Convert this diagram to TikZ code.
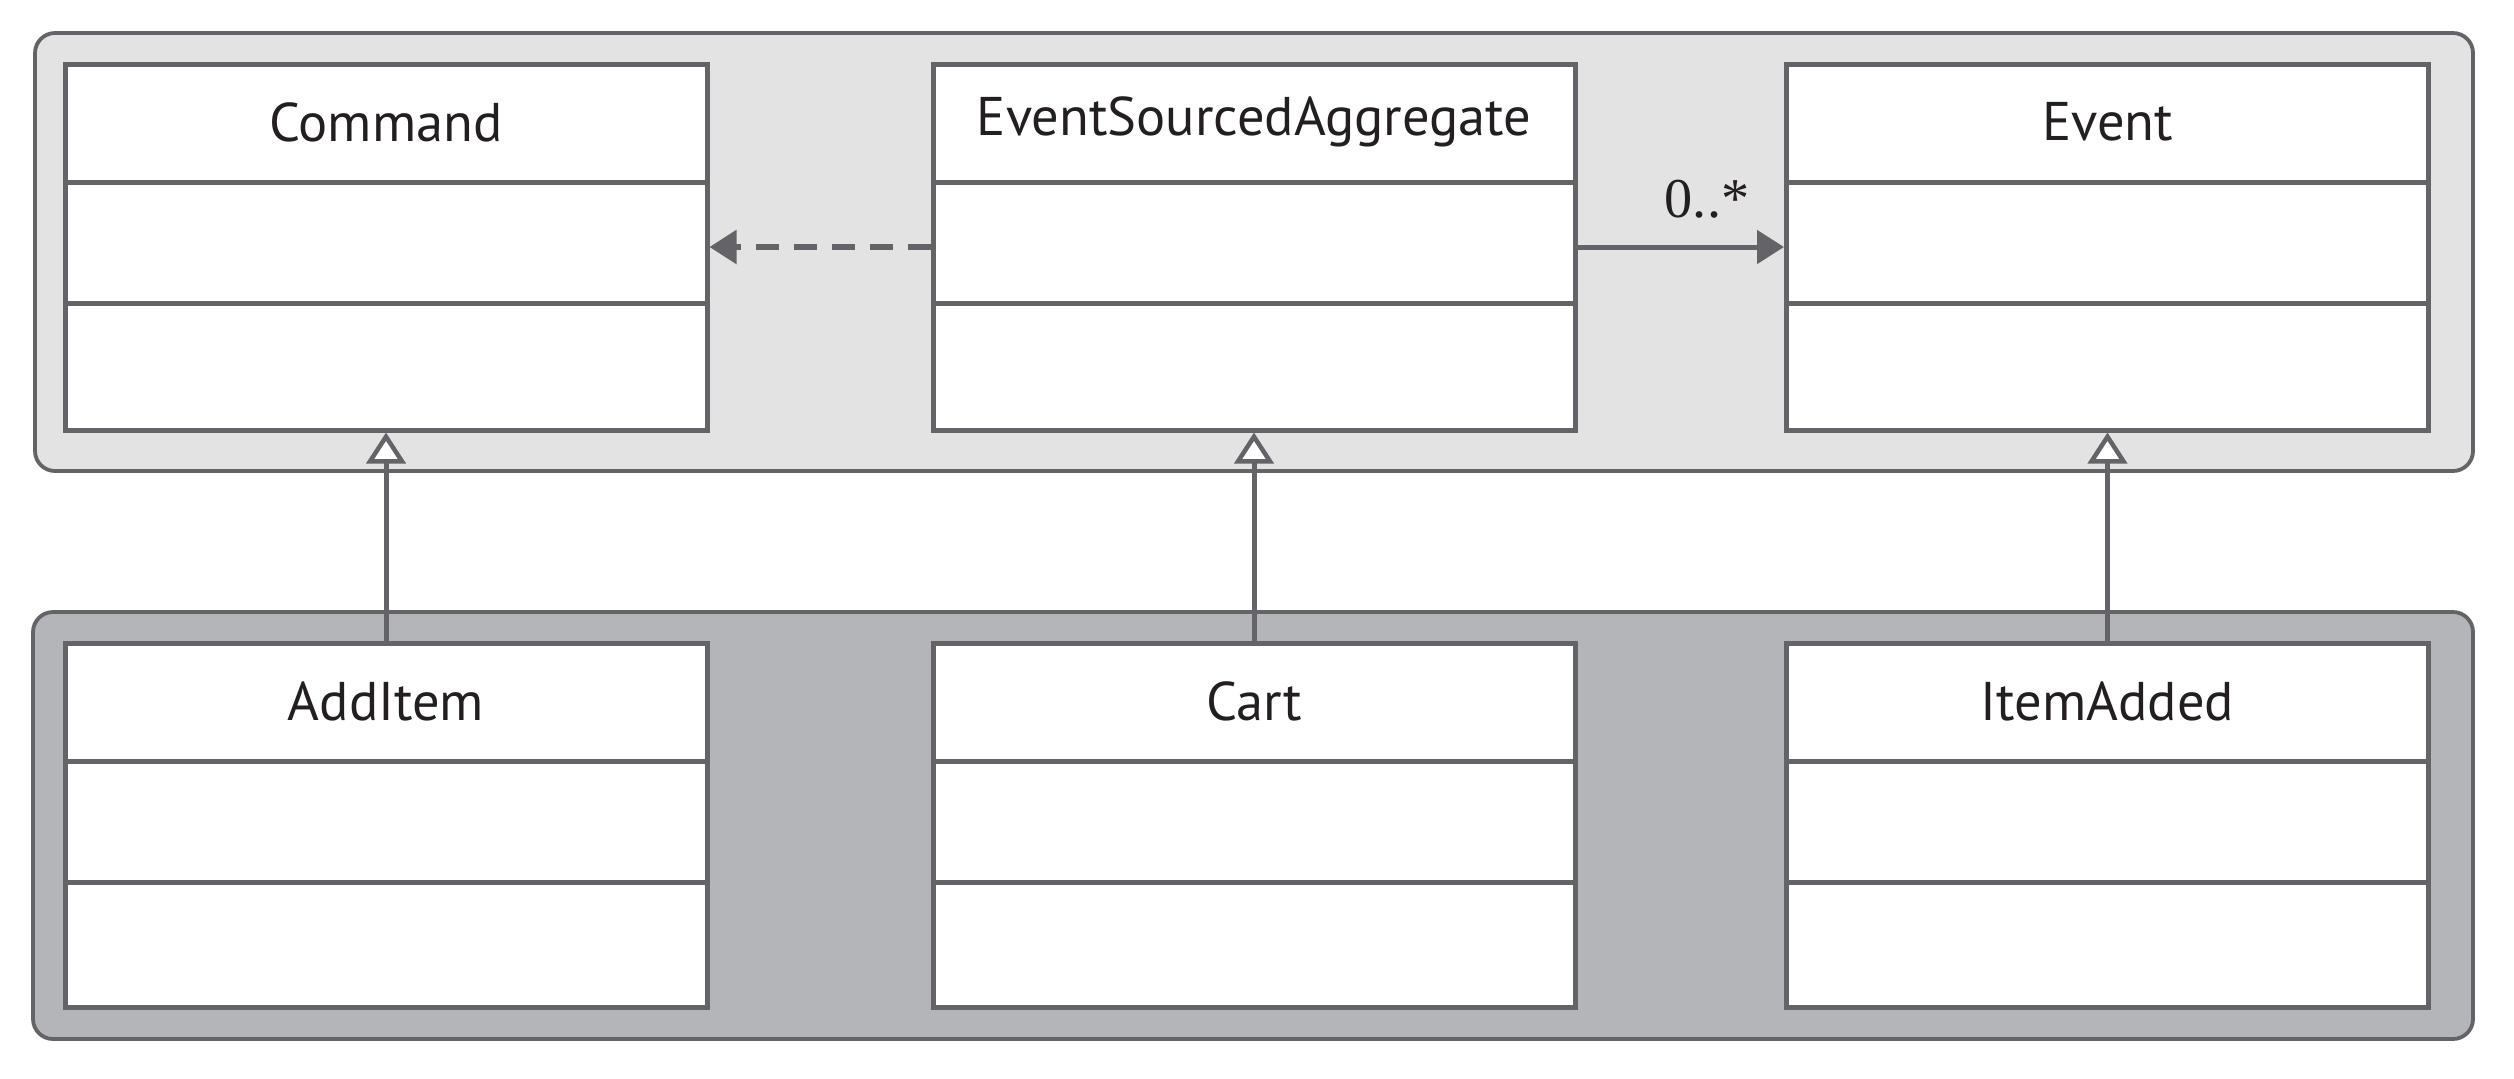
\documentclass[tikz,border=0pt]{standalone}
\usepackage{fontspec}
\setmainfont{Liberation Serif}
\newfontfamily\titlefont{PT Sans}
\usetikzlibrary{arrows.meta,calc}
\definecolor{linegray}{HTML}{646468}
\definecolor{toppanel}{HTML}{E3E3E3}
\definecolor{botpanel}{HTML}{B4B5B9}
\definecolor{textblack}{HTML}{231F20}
\tikzset{
  panel/.style={draw=linegray, line width=0.38mm, rounded corners=2mm, inner sep=0pt, minimum width=#1},
  classbox/.style={draw=linegray, fill=white, line width=0.5mm, inner sep=0pt, minimum width=64.2mm, minimum height=36.6mm},
  classtitle/.style={font=\titlefont\fontsize{15.5pt}{18pt}\selectfont, text=textblack, inner sep=0pt},
  divider/.style={draw=linegray, line width=0.5mm},
  conn/.style={draw=linegray, line width=0.5mm},
  filledtip/.style={-{Triangle[length=2.7mm, width=3.3mm, fill=linegray]}},
  gentip/.style={-{Triangle[length=3.1mm, width=3.9mm, fill=white, line width=0.45mm]}},
  mult/.style={font=\fontsize{16pt}{18pt}\selectfont, text=textblack, inner sep=0pt}
}
\begin{document}
\begin{tikzpicture}[x=0.1mm, y=-0.1mm]
\useasboundingbox[fill=white] (0,0) rectangle (2514,1078);
% panels
\node[panel=243.8mm, fill=toppanel, minimum height=43.8mm] (toppan) at (1254,252) {};
\node[panel=244.0mm, fill=botpanel, minimum height=42.7mm] (botpan) at (1253,825.5) {};
% top row classes
\node[classbox] (cmd) at (386,247) {};
\node[classbox] (esa) at (1254,247) {};
\node[classbox] (evt) at (2107.5,247) {};
% bottom row classes
\node[classbox, minimum height=36.4mm] (add) at (386,825) {};
\node[classbox, minimum height=36.4mm] (cart) at (1254,825) {};
\node[classbox, minimum height=36.4mm] (itm) at (2107.5,825) {};
% dividers and titles
\foreach \b/\t in {cmd/Command, esa/EventSourcedAggregate, evt/Event, add/AddItem, cart/Cart, itm/ItemAdded}{
  \draw[divider] ($(\b.north west)+(0,121)$) -- ($(\b.north east)+(0,121)$);
  \draw[divider] ($(\b.north west)+(0,242)$) -- ($(\b.north east)+(0,242)$);
  \node[classtitle] (\b-title) at ($(\b.north)+(0,60.5)$) {\t};
}
% associations
\draw[conn, filledtip, line width=0.55mm, dash pattern=on 2.3mm off 1.5mm] (esa.west) -- (cmd.east);
\draw[conn, filledtip] (esa.east) -- (evt.west);
\node[mult, anchor=base] (multlabel) at (1707,217) {0..*};
% generalizations
\draw[conn, gentip] (add.north) -- (cmd.south);
\draw[conn, gentip] (cart.north) -- (esa.south);
\draw[conn, gentip] (itm.north) -- (evt.south);
\end{tikzpicture}
\end{document}
